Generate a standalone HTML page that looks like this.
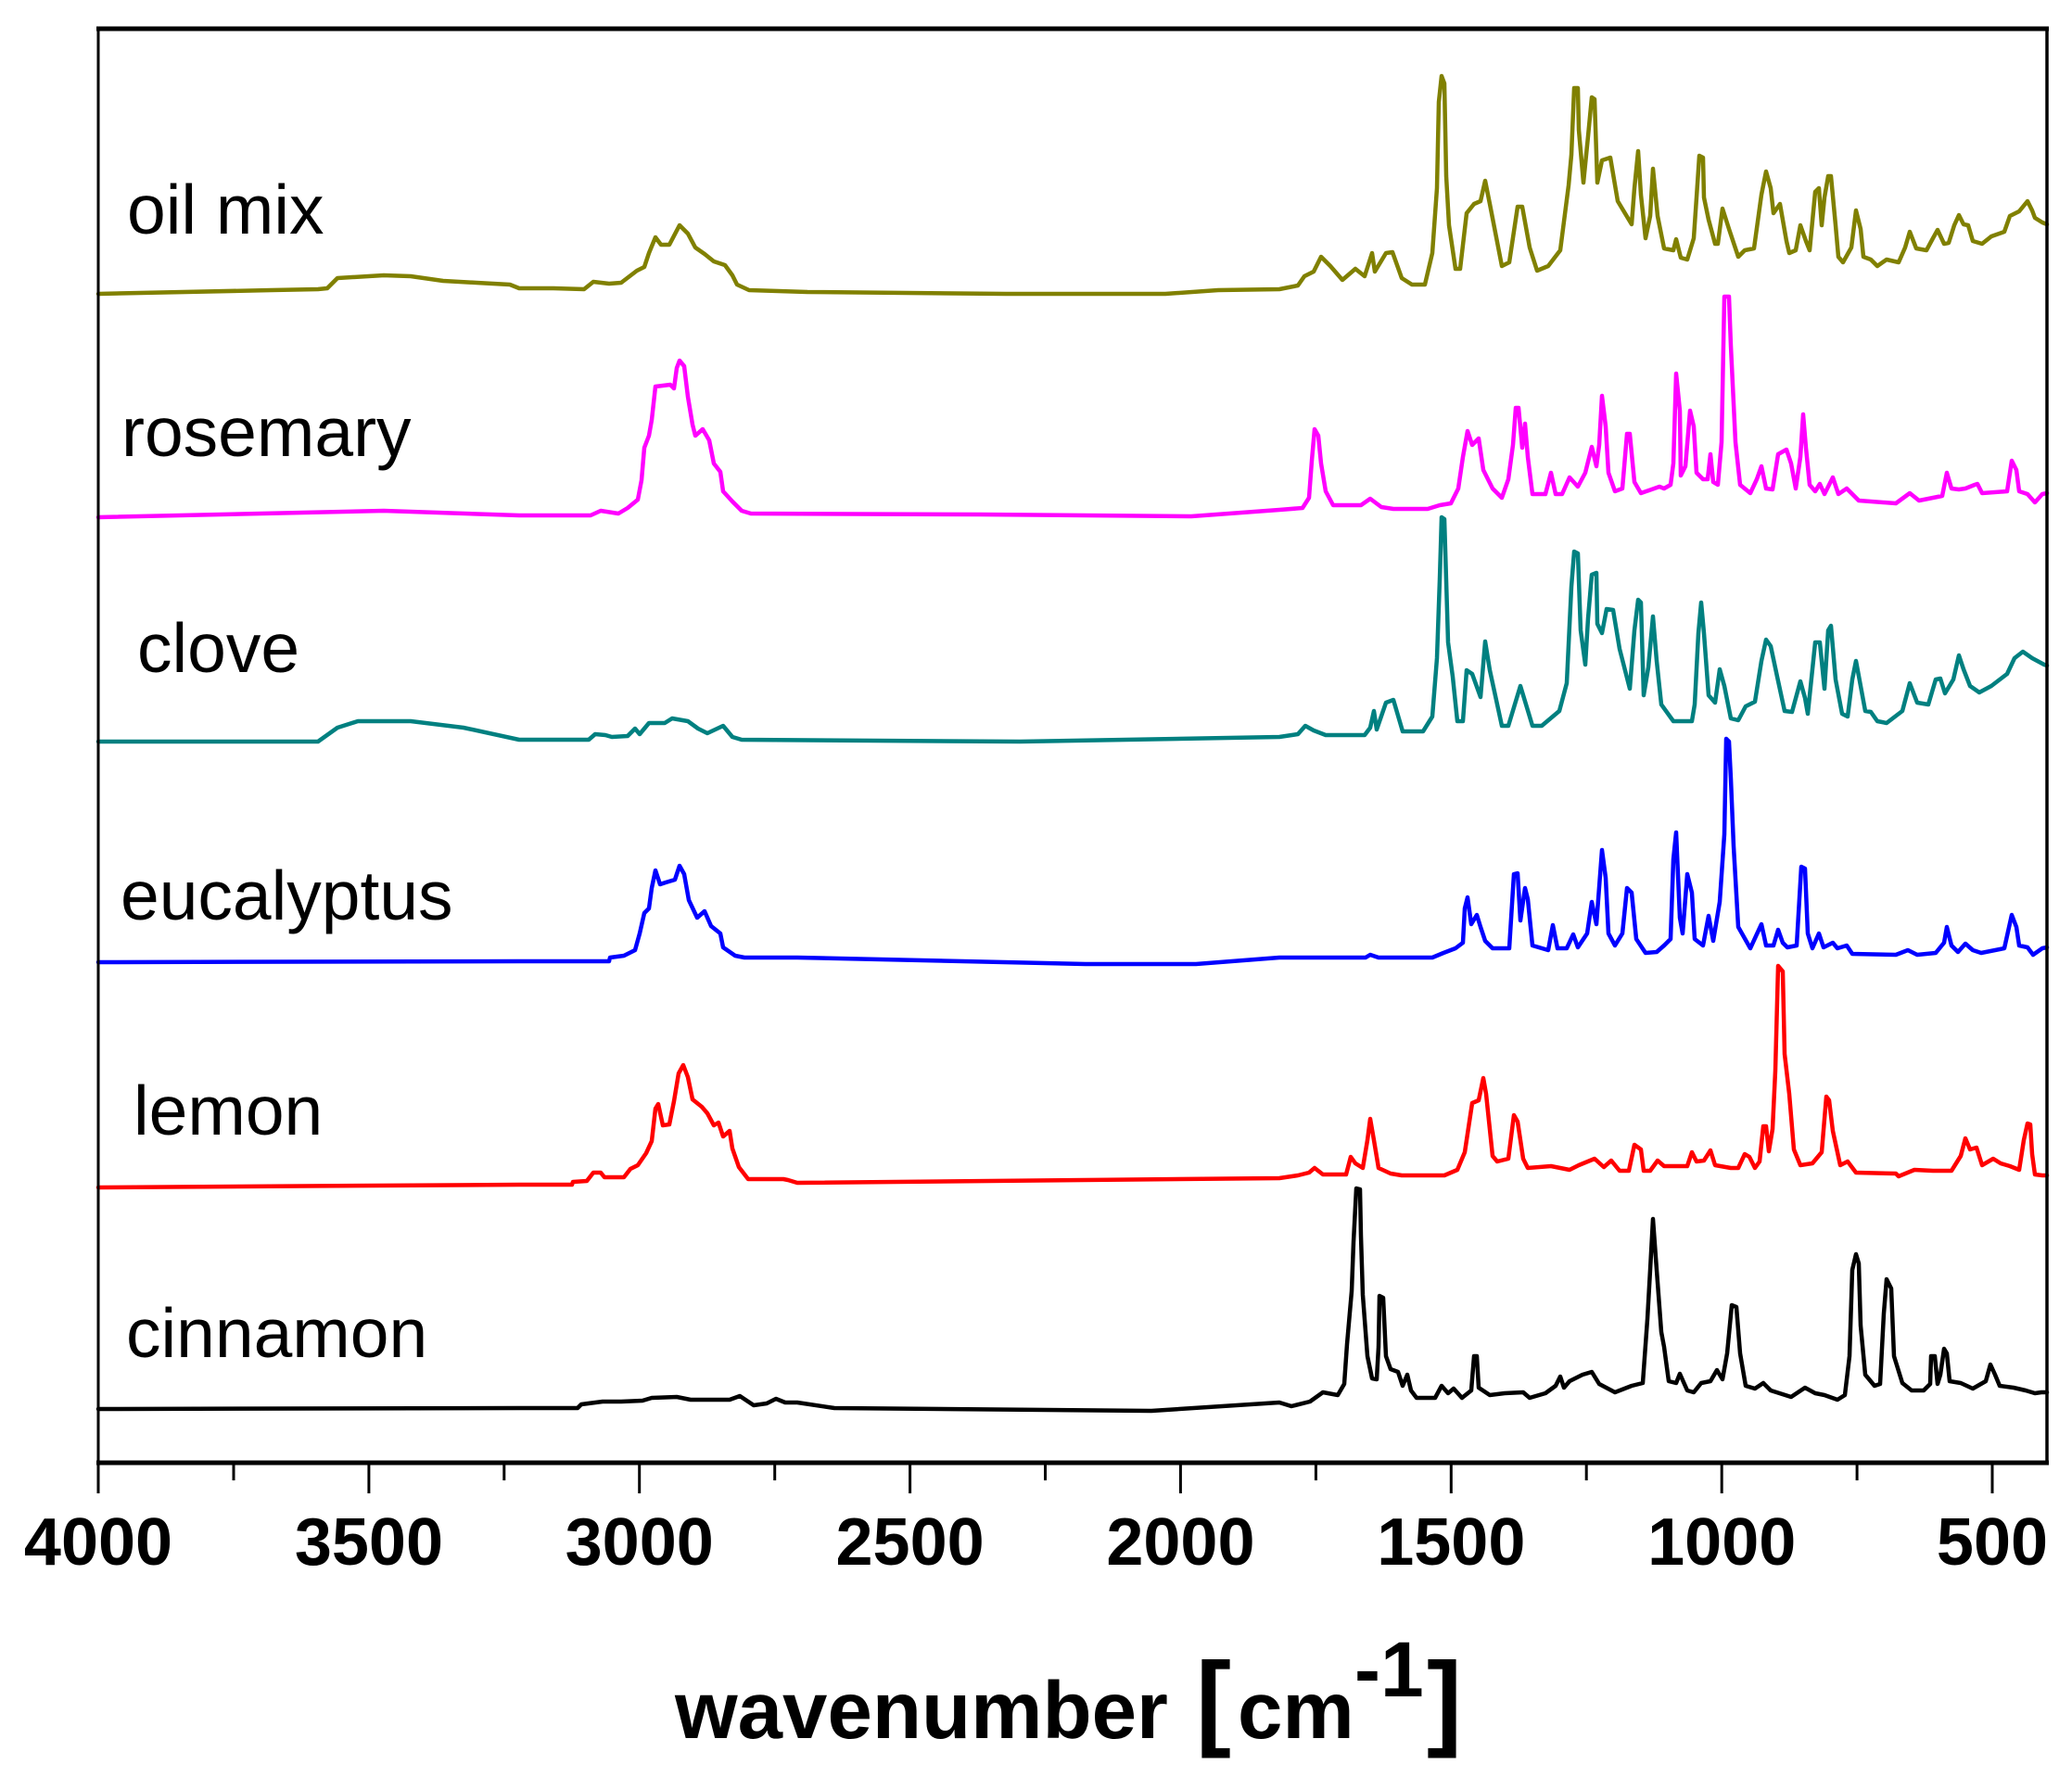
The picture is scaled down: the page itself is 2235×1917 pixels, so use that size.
<!DOCTYPE html>
<html>
<head>
<meta charset="utf-8">
<style>
html,body{margin:0;padding:0;background:#fff;}
svg{display:block;}
text{font-family:"Liberation Sans",Arial,sans-serif;}
</style>
</head>
<body>
<svg width="2235" height="1917" viewBox="0 0 2235 1917" xmlns="http://www.w3.org/2000/svg">
<rect x="0" y="0" width="2235" height="1917" fill="#fff"/>

<g fill="none" stroke-width="4.5" stroke-linejoin="round" stroke-linecap="round">
<polyline stroke="#808000" points="106,317 293,313 343,312 353,311 364,300 414,297 443,298 478,303 514,305 550,307 560,311 597,311 630,312 640,304 657,306 670,305 687,292 695,288 700,273 707,256 713,264 722,264 733,243 742,252 750,267 760,274 770,282 782,286 790,297 795,307 808,313 871,315 1085,317 1257,317 1314,313 1380,312 1400,308 1407,298 1417,293 1425,277 1435,287 1448,302 1462,290 1472,298 1480,273 1483,293 1495,273 1502,272 1512,300 1523,307 1537,307 1545,273 1550,203 1552,110 1555,82 1558,90 1560,190 1563,243 1570,290 1575,290 1582,230 1590,220 1597,217 1602,195 1607,220 1620,287 1628,283 1637,223 1642,223 1650,267 1658,292 1670,287 1683,270 1692,200 1695,167 1698,95 1702,95 1703,140 1708,197 1713,147 1717,105 1720,107 1723,197 1728,173 1737,170 1745,217 1760,242 1763,203 1767,163 1770,210 1775,257 1780,233 1783,182 1788,233 1795,268 1805,270 1808,258 1813,278 1820,280 1827,257 1830,213 1833,168 1837,170 1838,213 1843,237 1850,263 1853,263 1858,225 1865,247 1875,277 1882,270 1892,268 1900,210 1905,185 1910,203 1913,230 1920,220 1927,260 1930,273 1937,270 1942,243 1948,260 1952,270 1958,207 1962,203 1965,243 1968,213 1972,190 1975,190 1980,243 1983,277 1988,283 1997,267 2002,227 2007,247 2010,277 2018,280 2025,287 2035,280 2048,283 2055,267 2060,250 2067,268 2078,270 2085,257 2090,248 2097,263 2102,262 2108,243 2113,232 2118,242 2123,243 2128,260 2138,263 2148,255 2162,250 2168,233 2178,228 2187,217 2192,227 2195,235 2203,240 2208,242"/>

<polyline stroke="#ff00ff" points="106,558 414,551 560,556 637,556 648,551 667,554 677,548 688,539 692,518 695,483 700,470 703,453 707,417 723,415 727,419 730,397 733,389 738,395 742,428 747,458 750,470 758,463 765,475 770,500 777,509 780,530 790,541 800,551 810,554 1057,555 1285,557 1380,550 1405,548 1412,537 1415,497 1418,463 1422,470 1425,500 1430,530 1438,545 1468,545 1478,538 1490,547 1503,549 1540,549 1553,545 1565,543 1573,527 1578,493 1583,465 1588,480 1595,473 1600,507 1610,527 1620,537 1627,517 1632,480 1635,440 1638,440 1642,483 1645,457 1648,493 1653,533 1667,533 1673,510 1678,533 1685,533 1693,515 1702,525 1710,510 1717,482 1722,503 1725,480 1728,427 1732,460 1735,510 1742,530 1750,527 1755,468 1758,468 1763,520 1770,532 1790,525 1795,527 1802,523 1805,500 1808,403 1812,443 1813,513 1818,503 1823,443 1827,460 1830,510 1837,517 1842,517 1845,490 1848,520 1853,523 1857,477 1860,320 1865,320 1867,373 1872,477 1877,523 1888,532 1895,517 1900,503 1905,527 1912,528 1918,490 1927,485 1932,500 1937,527 1942,493 1945,447 1948,483 1952,523 1958,530 1963,522 1968,533 1977,515 1983,533 1992,527 2005,540 2045,543 2060,532 2070,540 2095,535 2100,510 2105,527 2113,528 2120,527 2130,523 2133,522 2138,532 2165,530 2170,497 2175,507 2178,530 2187,533 2195,542 2203,533 2208,532"/>

<polyline stroke="#008080" points="106,800 343,800 364,785 386,778 443,778 500,785 560,798 635,798 642,792 653,793 660,795 677,794 685,786 690,792 700,780 717,780 725,775 742,778 753,786 763,791 780,783 790,795 800,798 1100,800 1380,795 1400,792 1408,783 1417,788 1430,793 1472,793 1478,785 1482,767 1485,787 1495,758 1503,755 1513,789 1535,789 1545,773 1550,710 1553,625 1555,558 1558,560 1562,693 1567,730 1572,778 1578,778 1582,723 1588,727 1597,752 1602,692 1607,723 1620,783 1627,783 1640,740 1653,783 1663,783 1682,767 1690,737 1695,633 1698,595 1702,597 1705,680 1710,717 1713,667 1717,620 1722,618 1723,673 1728,683 1733,657 1740,658 1747,700 1758,743 1763,680 1767,647 1770,650 1773,750 1778,720 1783,665 1787,713 1792,760 1805,778 1825,778 1828,760 1832,683 1835,650 1838,683 1843,750 1850,758 1855,722 1860,740 1867,775 1875,777 1883,762 1893,757 1900,713 1905,690 1910,697 1917,730 1925,767 1933,768 1942,735 1947,753 1950,770 1958,693 1963,693 1968,743 1972,680 1975,675 1980,733 1987,770 1993,773 1998,733 2002,713 2007,740 2012,767 2018,768 2025,778 2035,780 2052,767 2060,737 2068,758 2080,760 2088,733 2093,732 2098,748 2107,733 2113,707 2118,722 2125,740 2135,747 2148,740 2165,727 2173,710 2182,703 2192,710 2205,717 2208,718"/>

<polyline stroke="#0000ff" points="106,1038 560,1037 657,1037 658,1033 673,1031 685,1025 690,1007 695,985 700,980 703,958 707,939 712,954 718,952 728,949 733,934 738,943 743,971 752,990 760,983 767,999 777,1007 780,1022 793,1031 803,1033 860,1033 1171,1040 1290,1040 1380,1033 1473,1033 1478,1030 1487,1033 1545,1033 1557,1028 1570,1023 1578,1017 1580,980 1583,968 1587,997 1593,987 1597,1000 1602,1015 1610,1023 1628,1023 1633,943 1637,942 1640,993 1645,958 1648,970 1653,1020 1670,1025 1675,998 1680,1023 1690,1023 1697,1008 1702,1022 1712,1007 1717,973 1722,997 1728,917 1732,947 1735,1007 1742,1020 1750,1007 1755,958 1760,963 1765,1013 1775,1028 1787,1027 1795,1020 1802,1013 1805,927 1808,898 1812,990 1815,1007 1820,943 1825,963 1828,1013 1837,1020 1843,988 1848,1015 1855,973 1860,900 1862,797 1865,800 1867,840 1870,913 1875,1000 1888,1023 1900,997 1905,1020 1913,1020 1918,1003 1923,1017 1928,1022 1938,1020 1943,935 1947,937 1950,1007 1955,1023 1962,1007 1967,1022 1977,1017 1982,1023 1992,1020 1998,1029 2045,1030 2058,1025 2068,1030 2088,1028 2097,1017 2100,1000 2105,1020 2112,1027 2120,1018 2128,1025 2137,1028 2162,1023 2170,987 2175,1000 2178,1020 2187,1022 2193,1030 2203,1023 2208,1022"/>

<polyline stroke="#ff0000" points="106,1281 560,1278 617,1278 618,1275 633,1274 640,1265 648,1265 652,1270 673,1270 680,1261 688,1257 697,1244 703,1231 707,1196 710,1191 715,1214 722,1213 727,1188 732,1158 737,1149 742,1162 747,1186 757,1194 763,1201 770,1214 775,1211 780,1226 787,1220 790,1239 797,1259 807,1272 845,1272 850,1273 860,1276 1380,1271 1400,1268 1412,1265 1418,1260 1427,1267 1452,1267 1457,1248 1462,1255 1470,1260 1475,1230 1478,1207 1482,1230 1487,1260 1500,1266 1512,1268 1558,1268 1572,1262 1580,1243 1588,1190 1595,1187 1600,1163 1603,1180 1610,1247 1615,1253 1627,1250 1633,1203 1637,1210 1643,1250 1648,1260 1673,1258 1693,1262 1703,1257 1720,1250 1730,1259 1738,1252 1747,1263 1757,1263 1763,1235 1770,1240 1773,1263 1780,1263 1788,1252 1795,1258 1820,1258 1825,1243 1830,1253 1838,1252 1845,1241 1850,1257 1867,1260 1875,1260 1882,1245 1887,1248 1893,1260 1898,1253 1902,1215 1905,1215 1908,1242 1912,1218 1915,1155 1918,1042 1923,1048 1925,1137 1930,1180 1935,1240 1942,1257 1955,1255 1965,1243 1970,1183 1973,1187 1977,1220 1985,1257 1993,1253 2002,1265 2045,1266 2048,1269 2065,1262 2085,1263 2105,1263 2115,1247 2120,1228 2125,1240 2132,1238 2138,1257 2150,1250 2158,1255 2168,1258 2178,1262 2183,1230 2187,1212 2190,1213 2192,1245 2195,1267 2203,1268 2208,1268"/>

<polyline stroke="#000000" points="106,1520 560,1519 623,1519 627,1515 650,1512 670,1512 693,1511 703,1508 730,1507 745,1510 787,1510 798,1506 813,1516 827,1514 837,1509 847,1513 860,1513 900,1519 1242,1522 1380,1513 1393,1517 1413,1512 1427,1502 1443,1505 1450,1493 1453,1450 1458,1393 1460,1340 1463,1282 1467,1283 1468,1333 1470,1397 1475,1463 1480,1487 1485,1488 1487,1453 1488,1398 1492,1400 1495,1463 1500,1477 1508,1480 1513,1495 1518,1483 1522,1500 1528,1508 1548,1508 1555,1495 1562,1503 1568,1498 1577,1508 1587,1500 1590,1463 1593,1463 1595,1497 1607,1505 1623,1503 1643,1502 1650,1508 1667,1503 1678,1495 1683,1485 1687,1497 1693,1490 1707,1483 1717,1480 1725,1493 1742,1502 1760,1495 1772,1492 1777,1423 1780,1370 1783,1315 1787,1370 1792,1437 1795,1453 1800,1490 1808,1492 1812,1482 1820,1500 1827,1502 1835,1492 1845,1490 1852,1478 1858,1488 1863,1460 1868,1408 1873,1410 1877,1460 1883,1495 1893,1498 1902,1492 1910,1500 1932,1507 1947,1497 1958,1503 1968,1505 1982,1510 1990,1505 1995,1463 1998,1370 2002,1353 2005,1363 2007,1430 2012,1483 2022,1495 2028,1493 2032,1417 2035,1380 2040,1390 2043,1463 2052,1492 2062,1500 2075,1500 2082,1493 2083,1463 2087,1463 2090,1493 2093,1483 2097,1455 2100,1460 2103,1490 2115,1492 2128,1498 2142,1490 2147,1472 2152,1483 2157,1495 2172,1497 2185,1500 2195,1503 2202,1502 2208,1502"/>
</g>

<!-- frame -->
<g stroke="#000" fill="none">
<line x1="104" y1="31" x2="2210" y2="31" stroke-width="5"/>
<line x1="104" y1="1578" x2="2210" y2="1578" stroke-width="5"/>
<line x1="106" y1="31" x2="106" y2="1580" stroke-width="3"/>
<line x1="2208" y1="31" x2="2208" y2="1580" stroke-width="3.5"/>
</g>

<!-- ticks -->
<g stroke="#000" stroke-width="3">
<line x1="106" y1="1578" x2="106" y2="1611"/>
<line x1="397.9" y1="1578" x2="397.9" y2="1611"/>
<line x1="689.7" y1="1578" x2="689.7" y2="1611"/>
<line x1="981.6" y1="1578" x2="981.6" y2="1611"/>
<line x1="1273.4" y1="1578" x2="1273.4" y2="1611"/>
<line x1="1565.3" y1="1578" x2="1565.3" y2="1611"/>
<line x1="1857.2" y1="1578" x2="1857.2" y2="1611"/>
<line x1="2149" y1="1578" x2="2149" y2="1611"/>
<line x1="252" y1="1578" x2="252" y2="1597"/>
<line x1="543.8" y1="1578" x2="543.8" y2="1597"/>
<line x1="835.7" y1="1578" x2="835.7" y2="1597"/>
<line x1="1127.5" y1="1578" x2="1127.5" y2="1597"/>
<line x1="1419.4" y1="1578" x2="1419.4" y2="1597"/>
<line x1="1711.2" y1="1578" x2="1711.2" y2="1597"/>
<line x1="2003.1" y1="1578" x2="2003.1" y2="1597"/>
</g>

<!-- tick labels -->
<g font-size="72" font-weight="bold" text-anchor="middle" fill="#000">
<text x="106" y="1688">4000</text>
<text x="397.9" y="1688">3500</text>
<text x="689.7" y="1688">3000</text>
<text x="981.6" y="1688">2500</text>
<text x="1273.4" y="1688">2000</text>
<text x="1565.3" y="1688">1500</text>
<text x="1857.2" y="1688">1000</text>
<text x="2149" y="1688">500</text>
</g>

<!-- axis title -->
<g font-weight="bold" fill="#000">
<text x="728" y="1875" font-size="87">wavenumber</text>
<text x="1290" y="1873" font-size="114">[</text>
<text x="1335" y="1875" font-size="87">cm</text>
<text x="1461" y="1830" font-size="84">-1</text>
<text x="1539" y="1873" font-size="114">]</text>
</g>

<!-- series labels -->
<g font-size="75" fill="#000">
<text x="137" y="252">oil mix</text>
<text x="131" y="492">rosemary</text>
<text x="148" y="725">clove</text>
<text x="130" y="992">eucalyptus</text>
<text x="144" y="1224">lemon</text>
<text x="136" y="1464">cinnamon</text>
</g>
</svg>
</body>
</html>
